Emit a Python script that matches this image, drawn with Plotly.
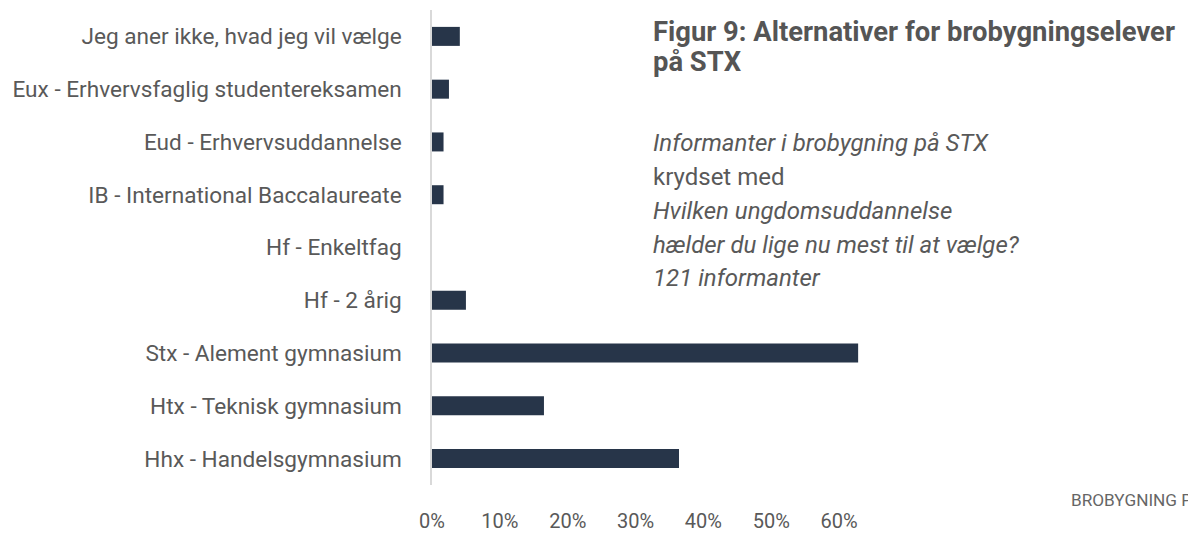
import plotly.graph_objects as go

categories = [
    "Jeg aner ikke, hvad jeg vil vælge",
    "Eux - Erhvervsfaglig studentereksamen",
    "Eud - Erhvervsuddannelse",
    "IB - International Baccalaureate",
    "Hf - Enkeltfag",
    "Hf - 2 årig",
    "Stx - Alement gymnasium",
    "Htx - Teknisk gymnasium",
    "Hhx - Handelsgymnasium",
]
values = [4.1, 2.5, 1.7, 1.7, 0.0, 5.0, 62.8, 16.5, 36.4]
tick_values = [0, 10, 20, 30, 40, 50, 60]
tick_labels = ["0%", "10%", "20%", "30%", "40%", "50%", "60%"]

title_lines = ["Figur 9: Alternativer for brobygningselever", "på STX"]
subtitle_lines = [
    "<i>Informanter i brobygning på STX</i>",
    "krydset med",
    "<i>Hvilken ungdomsuddannelse</i>",
    "<i>hælder du lige nu mest til at vælge?</i>",
    "<i>121 informanter</i>",
]
footer_text = "BROBYGNING PÅ STX"

# page offset from default body margin
OFF = 8
W, H = 1196 - OFF, 533 - OFF
L = 432 - OFF
T = 10 - OFF
B = H - (485 - OFF)
XMAX = 70
PX_PER_UNIT = 6.79
plot_w = XMAX * PX_PER_UNIT
R = W - L - plot_w
plot_h = H - T - B

def px(x):
    return (x - OFF - L) / plot_w

def py(y):
    return (H - B - (y - OFF)) / plot_h

FONT = "Roboto"
GRAY = "#595959"

fig = go.Figure()
fig.add_trace(go.Bar(
    x=values, y=categories, orientation="h",
    marker=dict(color="#273549", line=dict(width=0)),
    hoverinfo="x+y",
))

annotations = []
title_y = [32, 62]
for line, yy in zip(title_lines, title_y):
    annotations.append(dict(
        text=line, x=px(651), y=py(yy), xref="paper", yref="paper",
        xanchor="left", yanchor="middle", showarrow=False,
        font=dict(family=FONT, size=27.4, color="#555555", weight="bold"),
    ))
sub_y = [143, 177, 211, 245, 278]
for line, yy in zip(subtitle_lines, sub_y):
    annotations.append(dict(
        text=line, x=px(651), y=py(yy), xref="paper", yref="paper",
        xanchor="left", yanchor="middle", showarrow=False,
        font=dict(family=FONT, size=24, color=GRAY),
    ))
annotations.append(dict(
    text=footer_text, x=px(1069), y=py(500), xref="paper", yref="paper",
    xanchor="left", yanchor="middle", showarrow=False,
    font=dict(family=FONT, size=17.2, color="#666666"),
))

fig.update_layout(
    width=W, height=H,
    margin=dict(l=L, r=R, t=T, b=B, pad=0, autoexpand=False),
    paper_bgcolor="white", plot_bgcolor="white",
    bargap=0.64,
    showlegend=False,
    font=dict(family=FONT, color=GRAY, size=22),
    annotations=annotations,
    xaxis=dict(
        range=[0, XMAX], tickmode="array", tickvals=tick_values, ticktext=tick_labels,
        showgrid=False, zeroline=False, showline=False, automargin=False,
        ticks="", ticklabelstandoff=22,
        tickfont=dict(family=FONT, size=20, color=GRAY),
    ),
    yaxis=dict(
        autorange="reversed", showgrid=False, zeroline=False, automargin=False,
        showline=True, linecolor="#d9d9d9", linewidth=1.5,
        ticks="", ticklabelstandoff=24,
        tickfont=dict(family=FONT, size=22.6, color=GRAY),
    ),
)

fig.write_html("out.html")
